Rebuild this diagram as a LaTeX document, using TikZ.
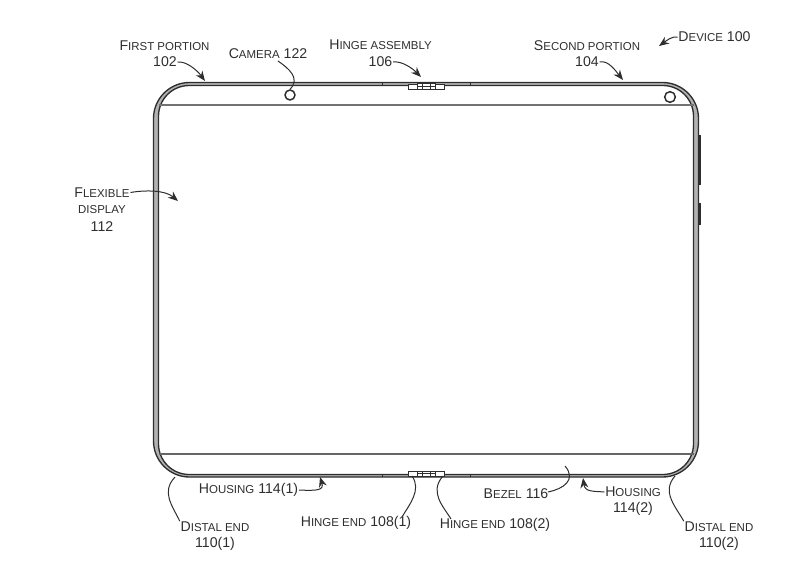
\documentclass[tikz,border=0pt]{standalone}
\usepackage{fontspec}
\setmainfont{Liberation Sans}
\usetikzlibrary{arrows.meta}
\definecolor{ink}{HTML}{2E2E2E}
\newcommand{\smc}[2]{#1{\fontsize{8.6}{10}\selectfont #2}}
\tikzset{
	lbl/.style={inner sep=0.5pt,text=ink,font=\fontsize{10.6}{12}\selectfont},
	shell/.style={draw=ink,line width=1pt,fill=black!30,even odd rule},
	wire/.style={draw=ink,line width=0.7pt},
	lead/.style={draw=ink,line width=0.75pt},
	leadarrow/.style={lead,-{Stealth[length=7.5pt,width=6pt]}},
	knob/.style={draw=ink,line width=1.1pt,fill=white,circle,inner sep=0pt,minimum size=#1},
	hinge/.style={draw=ink,line width=0.7pt,fill=white}
}
\begin{document}
\begin{tikzpicture}[x=0.75pt,y=-0.75pt]
	\useasboundingbox (0,0) rectangle (800,567);

	% housing and display
	\draw[shell] [rounded corners=27] (153.5,82.5) rectangle (698.5,477)
		[rounded corners=23] (158.5,85.5) rectangle (693.5,474.5);
	\draw[wire,line width=1pt,draw=black!55] (158.5,105) -- (693.5,105);
	\draw[wire,line width=1pt,draw=black!60] (158.5,454) -- (693.5,454);

	% buttons
	\draw[line width=2pt,draw=ink] (699.5,135) -- (699.5,185);
	\draw[line width=2pt,draw=ink] (699.5,203) -- (699.5,225);

	% seam ticks
	\draw[wire] (382,82) -- (382,86);
	\draw[wire] (470,82) -- (470,86);
	\draw[wire] (382,474) -- (382,477);
	\draw[wire] (470,474) -- (470,477);

	% hinges
	\draw[hinge] (408,84) rectangle (444,89.5);
	\draw[hinge] (417,83.5) rectangle (435,89.5);
	\draw[wire] (422,83.5) -- (422,89.5);
	\draw[wire] (430,83.5) -- (430,89.5);
	\draw[wire] (417,86.5) -- (435,86.5);
	\draw[hinge] (408,471) rectangle (444,476);
	\draw[hinge] (417,471) rectangle (435,476.5);
	\draw[wire] (422,471) -- (422,476.5);
	\draw[wire] (430,471) -- (430,476.5);
	\draw[wire] (417,473.5) -- (435,473.5);

	% cameras
	\node [knob=7.5pt] (cam) at (290,95) {};
	\node [knob=8pt] (camtwo) at (670,97) {};

	% labels
	\node [lbl] (first) at (164.5,45.5) {\smc{F}{IRST PORTION}};
	\node [lbl] (n102) at (165,62) {102};
	\node [lbl] (camera) at (268,54) {\smc{C}{AMERA} 122};
	\node [lbl] (hingeasm) at (380.5,45) {\smc{H}{INGE ASSEMBLY}};
	\node [lbl] (n106) at (380.5,62) {106};
	\node [lbl] (second) at (587,46) {\smc{S}{ECOND PORTION}};
	\node [lbl] (n104) at (587,62) {104};
	\node [lbl] (device) at (714.5,37) {\smc{D}{EVICE} 100};
	\node [lbl] (flex) at (102,192.5) {\smc{F}{LEXIBLE}};
	\node [lbl] (disp) at (102,210) {\smc{}{DISPLAY}};
	\node [lbl] (n112) at (102,227) {112};
	\node [lbl] (housea) at (248.5,490) {\smc{H}{OUSING} 114(1)};
	\node [lbl] (distala) at (215,527) {\smc{D}{ISTAL END}};
	\node [lbl] (n110a) at (215,544) {110(1)};
	\node [lbl] (hingea) at (356,523) {\smc{H}{INGE END} 108(1)};
	\node [lbl] (hingeb) at (495,525) {\smc{H}{INGE END} 108(2)};
	\node [lbl] (bezel) at (516,494) {\smc{B}{EZEL} 116};
	\node [lbl] (houseb) at (633,492) {\smc{H}{OUSING}};
	\node [lbl] (n114b) at (633,509) {114(2)};
	\node [lbl] (distalb) at (719,527) {\smc{D}{ISTAL END}};
	\node [lbl] (n110b) at (719,544) {110(2)};

	% leader ends
	\coordinate (tipfirst) at (205,81);
	\coordinate (tiphinge) at (421,77);
	\coordinate (tipsecond) at (623,80);
	\coordinate (tipdevice) at (659,46);
	\coordinate (tipflex) at (178,201);
	\coordinate (tiphousea) at (320,477);
	\coordinate (tiphouseb) at (583,478);
	\coordinate (enddista) at (175,477);
	\coordinate (enddistb) at (675,476);
	\coordinate (endhingea) at (412,476);
	\coordinate (endhingeb) at (443,476);
	\coordinate (endbezel) at (565,466);
	\coordinate (tailbezel) at (548,492);
	\coordinate (tailhingea) at (402,517);
	\coordinate (tailhingeb) at (451,519);
	\coordinate (tailcamera) at (278,61);

	% leaders
	\draw[leadarrow] (n102.east) .. controls (186,61) and (197,70) .. (tipfirst);
	\draw[leadarrow] (n106.east) .. controls (402,61) and (412,68) .. (tiphinge);
	\draw[leadarrow] (n104.east) .. controls (608,60) and (615,70) .. (tipsecond);
	\draw[leadarrow] (device.west) .. controls (672,36) and (666,41) .. (tipdevice);
	\draw[leadarrow] (flex.east) .. controls (145,190) and (165,190) .. (tipflex);
	\draw[leadarrow] (housea.east) .. controls (318,491) and (324,490) .. (tiphousea);
	\draw[leadarrow] (houseb.west) .. controls (592,491) and (585,492) .. (tiphouseb);
	\draw[lead] (tailcamera) .. controls (288,68) and (301,78) .. (cam.north);
	\draw[lead] (distala.north west) .. controls (172,505) and (161,492) .. (enddista);
	\draw[lead] (distalb.north west) .. controls (676,507) and (661,492) .. (enddistb);
	\draw[lead] (tailhingea) .. controls (409,505) and (422,490) .. (endhingea);
	\draw[lead] (tailhingeb) .. controls (443,506) and (429,492) .. (endhingeb);
	\draw[lead] (tailbezel) .. controls (563,489) and (577,480) .. (endbezel);
\end{tikzpicture}
\end{document}
